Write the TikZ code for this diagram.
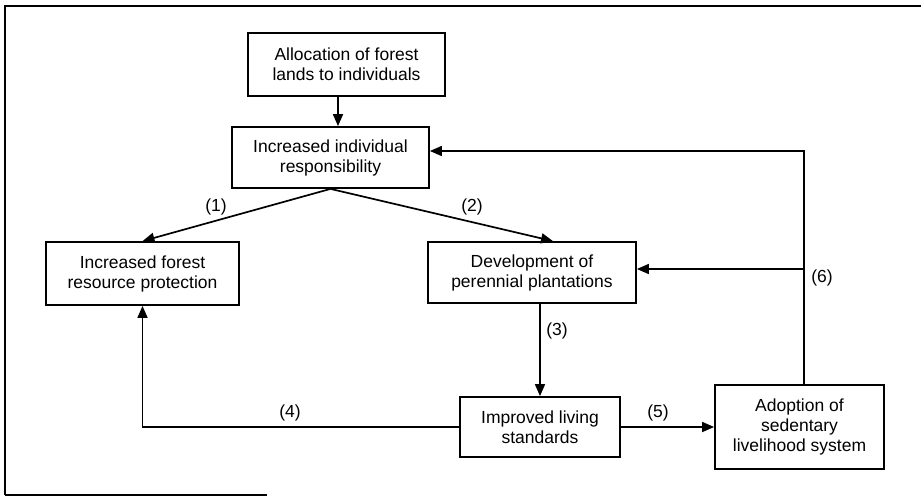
\documentclass[tikz,border=0pt]{standalone}
\usepackage{fontspec}
\setmainfont{Liberation Sans}
\usetikzlibrary{arrows.meta}
\begin{document}
\begin{tikzpicture}[x=1pt,y=-1pt,
  box/.style={draw,line width=1.8pt,rectangle,inner sep=0pt,align=center,
    font=\fontsize{17.5}{20}\selectfont},
  arr/.style={line width=1.7pt,-{Triangle[length=12pt,width=10pt]}},
  lab/.style={font=\fontsize{17.5}{20}\selectfont,inner sep=0pt}]
\useasboundingbox (0,0) rectangle (921,496);
% frame
\draw[line width=1.5pt] (5,495) -- (5,6) -- (921,6);
\draw[line width=1.5pt] (5,495) -- (267,495);
% nodes
\node[box,minimum width=197pt,minimum height=63pt] (alloc) at (346.5,64.5) {Allocation of forest\\lands to individuals};
\node[box,minimum width=197pt,minimum height=61pt] (resp) at (330.5,157.5) {Increased individual\\responsibility};
\node[box,minimum width=193pt,minimum height=63pt] (prot) at (142.5,273.5) {Increased forest\\resource protection};
\node[box,minimum width=208pt,minimum height=61pt] (dev) at (532,272.5) {Development of\\perennial plantations};
\node[box,minimum width=160pt,minimum height=60pt] (impr) at (540,427) {Improved living\\standards};
\node[box,minimum width=169pt,minimum height=84pt] (adopt) at (799.5,427) {Adoption of\\sedentary\\livelihood system};
\coordinate (top) at (804,151);
\coordinate (mid) at (804,269);
\coordinate (ax) at (338,0);
% connectors
\draw[arr] (alloc.south -| ax) -- (resp.north -| ax);
\draw[arr] (resp.south) -- (prot.north);
\draw[arr] (resp.south) -- ([xshift=21pt]dev.north);
\draw[arr] (dev.south -| impr.north) -- (impr.north);
\draw[arr] (impr.east) -- (adopt.west);
\draw[arr] (adopt.north -| top) -- (top) -- (top -| resp.east);
\draw[arr] (mid) -- (mid -| dev.east);
\draw[arr] (impr.west) -| (prot.south);
% labels
\node[lab] (l1) at (216,207) {(1)};
\node[lab] (l2) at (472,207) {(2)};
\node[lab] (l3) at (557,331) {(3)};
\node[lab] (l4) at (290,413) {(4)};
\node[lab] (l5) at (658,413) {(5)};
\node[lab] (l6) at (822,278) {(6)};
\end{tikzpicture}
\end{document}
